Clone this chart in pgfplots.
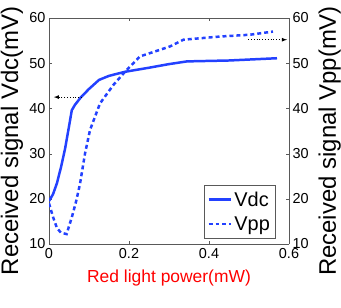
\documentclass[border=0pt]{standalone}
\usepackage{fontspec}
\setmainfont{Liberation Sans}
\usepackage{pgfplots}
\pgfplotsset{compat=1.18}
\definecolor{lb}{RGB}{35,65,255}
\begin{document}
\begin{tikzpicture}
\pgfplotsset{every axis/.append style={
  scale only axis, width=240bp, height=226bp,
  xmin=0, xmax=0.6, ymin=10, ymax=60,
  /pgf/number format/assume math mode=true,
  tick label style={font=\fontsize{14.5}{14.5}\selectfont},
  tick align=inside, major tick length=3bp,
  axis line style={gray!70!black}, tick style={gray!70!black},
}}
\begin{axis}[name=ax,
  axis y line*=left, axis x line*=box,
  xtick={0,0.2,0.4,0.6}, ytick={10,20,30,40,50,60},
  xticklabels={0,0.2,0.4,0.6},
  xlabel={\textcolor{red}{Red light power(mW)}},
  xlabel style={font=\fontsize{17.5}{17.5}\selectfont, at={(axis description cs:0.5,-0.15)}, anchor=center},
  ylabel={Received signal Vdc(mV)},
  ylabel style={font=\fontsize{24}{24}\selectfont, at={(axis description cs:-0.154,0.456)}, anchor=center},
  xticklabel style={yshift=-1bp},
  legend style={at={(0.942,0.027)}, anchor=south east, font=\fontsize{20}{20}\selectfont,
    draw=gray!70!black, inner xsep=3pt, inner ysep=4pt, row sep=5pt},
  legend cell align=left,
  legend image code/.code={\draw[#1] (0cm,0cm) -- (0.8cm,0cm);},
  legend image post style={line width=2.5pt},
]
\addplot[lb, line width=2.5pt] coordinates {
(0,19.5)(0.01,21)(0.02,23.5)(0.03,27)(0.04,31)(0.05,36)(0.057,39.6)(0.065,40.8)
(0.08,42.5)(0.1,44.3)(0.125,46.3)(0.15,47.2)(0.19,48.1)(0.25,49)(0.3,49.8)
(0.345,50.4)(0.45,50.6)(0.57,51.1)};
\addlegendentry{Vdc}
\addplot[lb, line width=2.5pt, dash pattern=on 4pt off 3pt] coordinates {
(0,19)(0.01,16)(0.02,13.5)(0.03,12.5)(0.044,12.2)(0.057,15.9)(0.068,19.5)(0.0775,23.3)
(0.09,30)(0.1025,35.2)(0.1275,41.1)(0.161,45.2)(0.19,48.1)(0.2275,51.5)(0.3025,53.7)
(0.336,55.2)(0.4275,55.9)(0.5025,56.3)(0.56,57)};
\addlegendentry{Vpp}
\draw[black, dotted, thick, -latex] (axis cs:0.082,42.5) -- (axis cs:0.012,42.5);
\draw[black, dotted, thick, -latex] (axis cs:0.498,55.2) -- (axis cs:0.595,55.2);
\end{axis}
\begin{axis}[
  axis y line*=right, axis x line=none,
  ytick={10,20,30,40,50,60},
  ylabel={Received signal Vpp(mV)},
  ylabel style={font=\fontsize{24}{24}\selectfont, at={(axis description cs:1.17,0.456)}, anchor=center},
]
\end{axis}
\pgfresetboundingbox
\path ([shift={(-49bp,-63bp)}]ax.south west) rectangle ([shift={(52bp,18bp)}]ax.north east);
\end{tikzpicture}
\end{document}
